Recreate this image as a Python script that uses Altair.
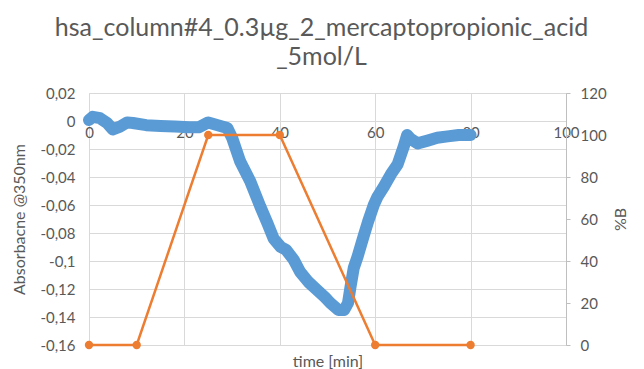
import altair as alt
import pandas as pd

# Absorbance trace at 350 nm
abs_time = [0, 0.8, 2.3, 3.8, 5, 6.5, 8, 9.2, 12, 15, 18, 21, 23, 25, 27, 29,
            30, 31.7, 33.8, 35.9, 37.4, 38.7, 40.2, 41.3, 42.9, 44.3, 46, 47.9,
            49.5, 50.6, 52.3, 53.5, 54.3, 54.8, 55.5, 56.3, 57.6, 58.5, 59.7,
            60.5, 61.8, 63.3, 64.7, 66, 66.7, 67.5, 68.9, 71, 73, 75.2, 77.5, 80]
abs_value = [0.0007, 0.003, 0.002, -0.0014, -0.006, -0.004, -0.001, -0.0014,
             -0.003, -0.0035, -0.004, -0.0045, -0.0045, -0.001, -0.003, -0.005,
             -0.012, -0.029, -0.043, -0.061, -0.073, -0.084, -0.090, -0.092,
             -0.099, -0.108, -0.115, -0.121, -0.126, -0.130, -0.135, -0.135,
             -0.130, -0.119, -0.105, -0.097, -0.082, -0.072, -0.060, -0.054,
             -0.047, -0.038, -0.031, -0.018, -0.010, -0.013, -0.016, -0.014,
             -0.012, -0.011, -0.010, -0.010]

# Gradient program (%B)
grad_time = [0, 10, 25, 40, 60, 80]
grad_b = [0, 0, 100, 100, 0, 0]

x_ticks = [0, 20, 40, 60, 80, 100]
abs_ticks = [0.02, 0, -0.02, -0.04, -0.06, -0.08, -0.1, -0.12, -0.14, -0.16]
b_ticks = [0, 20, 40, 60, 80, 100, 120]

abs_df = pd.DataFrame({"time": abs_time, "absorbance": abs_value})
grad_df = pd.DataFrame({"time": grad_time, "B": grad_b})

FONT = "Lato"
TXT = "#595959"
GRID = "#D9D9D9"
W, H = 477, 252

comma_fmt = ("(datum.value < 0 ? '-' : '') + "
             "replace(format(abs(datum.value), '.2~f'), '.', ',')")

x_enc = alt.X(
    "time:Q",
    scale=alt.Scale(domain=[0, 100], nice=False),
    axis=alt.Axis(
        values=x_ticks, title="time [min]", titleY=232, titleFont=FONT,
        titleFontSize=16, titleFontWeight="normal", titleColor=TXT,
        labelFont=FONT, labelFontSize=15, labelColor=TXT, labelPadding=4,
        offset=-224, ticks=False, domainColor=GRID, gridColor=GRID,
        labelFlush=False,
    ),
)

blue = alt.Chart(abs_df).mark_line(
    color="#5B9BD5", strokeWidth=12, strokeCap="round", strokeJoin="round"
).encode(
    x=x_enc,
    y=alt.Y(
        "absorbance:Q",
        scale=alt.Scale(domain=[-0.16, 0.02], nice=False, zero=False),
        axis=alt.Axis(
            values=abs_ticks, labelExpr=comma_fmt, title="Absorbacne @350nm",
            titleFont=FONT, titleFontSize=16, titleFontWeight="normal",
            titleColor=TXT, titlePadding=12, labelFont=FONT, labelFontSize=15,
            labelColor=TXT, ticks=False, domain=False, gridColor=GRID,
            labelPadding=14,
        ),
    ),
)

orange = alt.Chart(grad_df).mark_line(
    color="#ED7D31", strokeWidth=2.5,
    point=alt.OverlayMarkDef(color="#ED7D31", size=70, filled=True, opacity=1),
).encode(
    x="time:Q",
    y=alt.Y(
        "B:Q",
        scale=alt.Scale(domain=[0, 120], nice=False),
        axis=alt.Axis(
            values=b_ticks, orient="right", title="%B", titleAngle=270,
            titleFont=FONT, titleFontSize=16, titleFontWeight="normal",
            titleColor=TXT, titlePadding=22, labelFont=FONT, labelFontSize=15,
            labelColor=TXT, grid=False, domainColor="#BFBFBF",
            tickColor="#BFBFBF", tickSize=4, labelPadding=10,
        ),
    ),
)

chart = alt.layer(blue, orange).resolve_scale(y="independent").properties(
    width=W, height=H,
    autosize=alt.AutoSizeParams(type="none"),
    padding={"left": 89, "top": 93, "right": 78, "bottom": 24},
    title=alt.TitleParams(
        text=["hsa_column#4_0.3µg_2_mercaptopropionic_acid", "_5mol/L"],
        font=FONT, fontSize=25, fontWeight="normal", color=TXT,
        anchor="middle", offset=16, lineHeight=29, dx=-6,
    ),
).configure_view(stroke=None).configure(background="white")

chart.save("out.html", embed_options={"renderer": "svg", "actions": False})
